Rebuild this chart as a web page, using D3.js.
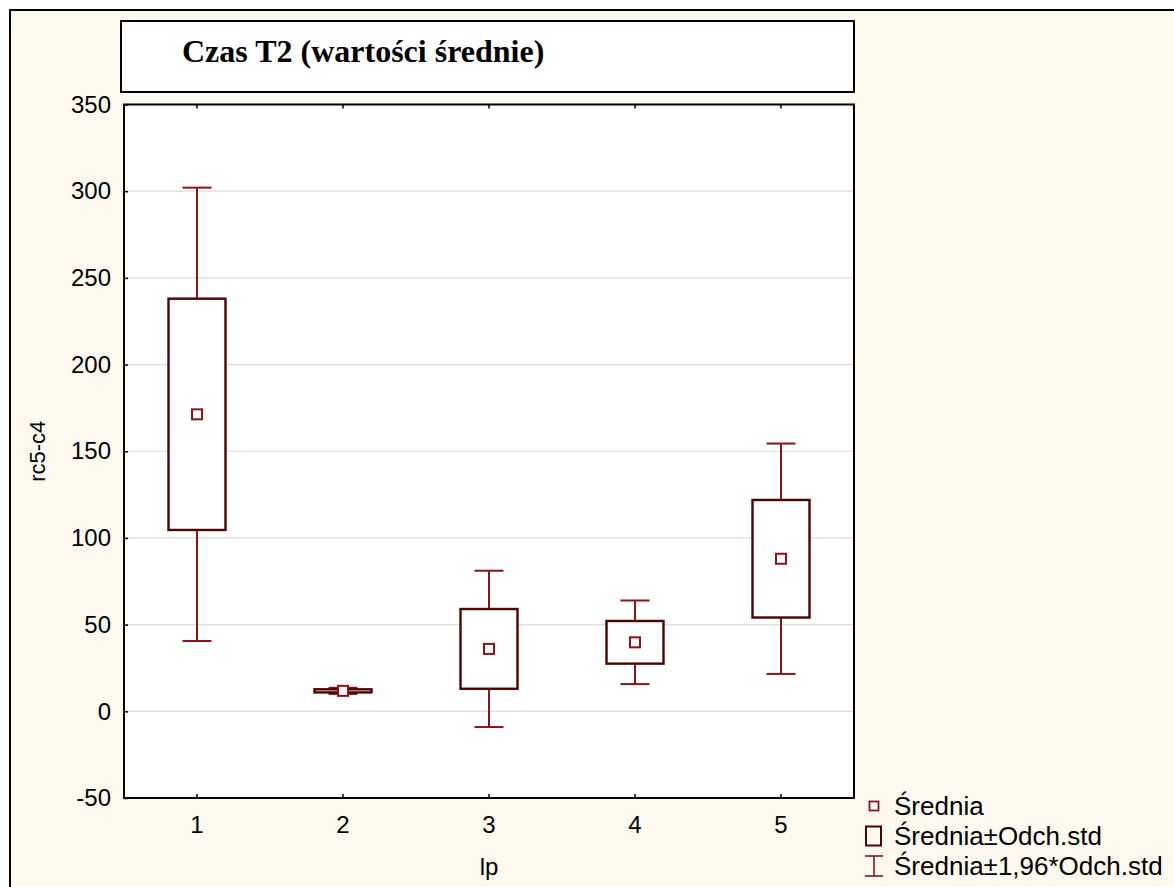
<!DOCTYPE html>
<html>
<head>
<meta charset="utf-8">
<script src="https://cdn.jsdelivr.net/npm/d3@7"></script>
<style>
  html, body { margin: 0; padding: 0; background: #ffffff; }
  svg { display: block; }
</style>
</head>
<body>
<svg id="chart" width="1174" height="887"></svg>
<script>
// Group labels and summary statistics (mean and standard deviation) per group
const categories = ["1", "2", "3", "4", "5"];
const means = [171.3, 11.8, 36, 39.8, 88];
const stdDevs = [66.7, 0.9, 23, 12.3, 33.9];
const yTicks = [-50, 0, 50, 100, 150, 200, 250, 300, 350];
const legendLabels = ["Średnia", "Średnia±Odch.std", "Średnia±1,96*Odch.std"];
const zFactor = 1.96;

const svg = d3.select("#chart");
const W = 1174, H = 887;

const bg = "#fdf9ef";
const boxColor = "#4a0404";
const whiskerColor = "#8b1414";
const meanColor = "#8b1414";
const fontSans = "'Liberation Sans', Arial, sans-serif";

// Outer panel
svg.append("rect").attr("x", 0).attr("y", 0).attr("width", W).attr("height", H).attr("fill", "#ffffff");
svg.append("rect").attr("x", 10).attr("y", 10).attr("width", W + 20).attr("height", H + 20)
  .attr("fill", bg).attr("stroke", "#000").attr("stroke-width", 2);

// Title box
svg.append("rect").attr("x", 121).attr("y", 21).attr("width", 733).attr("height", 71)
  .attr("fill", "#ffffff").attr("stroke", "#000").attr("stroke-width", 2);
svg.append("text").attr("x", 182).attr("y", 62)
  .attr("font-family", "'Liberation Serif', 'Times New Roman', serif")
  .attr("font-weight", "bold").attr("font-size", 32).attr("fill", "#000")
  .text("Czas T2 (wartości średnie)");

// Plot area
const pLeft = 124, pRight = 854, pTop = 104.5, pBottom = 798;
const x = d3.scaleBand().domain(categories).range([pLeft, pRight]).padding(0);
const y = d3.scaleLinear().domain([-50, 350]).range([pBottom, pTop]);

svg.append("rect").attr("x", pLeft).attr("y", pTop).attr("width", pRight - pLeft).attr("height", pBottom - pTop)
  .attr("fill", "#ffffff");

// Horizontal gridlines
svg.append("g").selectAll("line").data(yTicks.filter(t => t > -50 && t < 350)).join("line")
  .attr("x1", pLeft).attr("x2", pRight)
  .attr("y1", d => y(d)).attr("y2", d => y(d))
  .attr("stroke", "#dcdcdc").attr("stroke-width", 1.2);

// Left axis with inward ticks
const yAxis = d3.axisLeft(y).tickValues(yTicks).tickSize(-4).tickPadding(13)
  .tickFormat(d => String(d));
const gy = svg.append("g").attr("transform", `translate(${pLeft},0)`).call(yAxis);
gy.select(".domain").remove();
gy.selectAll("line").attr("stroke", "#000").attr("stroke-width", 1.5);
gy.selectAll("text").attr("font-family", fontSans).attr("font-size", 24).attr("fill", "#000");

// Bottom axis with inward ticks
const xAxis = d3.axisBottom(x).tickSize(-4).tickPadding(18);
const gx = svg.append("g").attr("transform", `translate(0,${pBottom})`).call(xAxis);
gx.select(".domain").remove();
gx.selectAll("line").attr("stroke", "#000").attr("stroke-width", 1.5);
gx.selectAll("text").attr("font-family", fontSans).attr("font-size", 24).attr("fill", "#000");

// Top axis ticks (no labels)
const xTop = d3.axisTop(x).tickSize(-4).tickFormat("");
const gt = svg.append("g").attr("transform", `translate(0,${pTop})`).call(xTop);
gt.select(".domain").remove();
gt.selectAll("line").attr("stroke", "#000").attr("stroke-width", 1.5);

// Plot frame
svg.append("rect").attr("x", pLeft).attr("y", pTop).attr("width", pRight - pLeft).attr("height", pBottom - pTop)
  .attr("fill", "none").attr("stroke", "#000").attr("stroke-width", 2);

// Axis titles
svg.append("text").attr("transform", `translate(45,${(pTop + pBottom) / 2}) rotate(-90)`)
  .attr("text-anchor", "middle").attr("font-family", fontSans).attr("font-size", 22).attr("fill", "#000")
  .text("rc5-c4");
svg.append("text").attr("x", (pLeft + pRight) / 2).attr("y", 875)
  .attr("text-anchor", "middle").attr("font-family", fontSans).attr("font-size", 24).attr("fill", "#000")
  .text("lp");

// Box-and-whisker marks: mean, mean±SD box, mean±1.96·SD whiskers
const data = categories.map((c, i) => ({ c, m: means[i], s: stdDevs[i] }));
const boxW = 57, capW = 29, mk = 10;
const g = svg.append("g");

data.forEach(d => {
  const cx = x(d.c) + x.bandwidth() / 2;
  const lo = d.m - zFactor * d.s, hi = d.m + zFactor * d.s;
  const bLo = d.m - d.s, bHi = d.m + d.s;
  // whisker stems
  g.append("line").attr("x1", cx).attr("x2", cx).attr("y1", y(hi)).attr("y2", y(bHi))
    .attr("stroke", whiskerColor).attr("stroke-width", 2);
  g.append("line").attr("x1", cx).attr("x2", cx).attr("y1", y(bLo)).attr("y2", y(lo))
    .attr("stroke", whiskerColor).attr("stroke-width", 2);
  // caps
  [hi, lo].forEach(v => {
    g.append("line").attr("x1", cx - capW / 2).attr("x2", cx + capW / 2).attr("y1", y(v)).attr("y2", y(v))
      .attr("stroke", whiskerColor).attr("stroke-width", 2);
  });
  // box
  g.append("rect").attr("x", cx - boxW / 2).attr("y", y(bHi)).attr("width", boxW)
    .attr("height", Math.max(0.5, y(bLo) - y(bHi)))
    .attr("fill", "#ffffff").attr("stroke", boxColor).attr("stroke-width", 2.4);
  // mean marker
  g.append("rect").attr("x", cx - mk / 2).attr("y", y(d.m) - mk / 2).attr("width", mk).attr("height", mk)
    .attr("fill", "#ffffff").attr("stroke", meanColor).attr("stroke-width", 2);
});

// Legend
const lg = svg.append("g");
const lx = 874;
const rowsMid = [806, 836, 866];
lg.append("rect").attr("x", lx - 4.5).attr("y", rowsMid[0] - 4.5).attr("width", 9).attr("height", 9)
  .attr("fill", "#fff").attr("stroke", meanColor).attr("stroke-width", 1.8);
lg.append("rect").attr("x", lx - 8).attr("y", rowsMid[1] - 9.5).attr("width", 15).attr("height", 19)
  .attr("fill", "none").attr("stroke", boxColor).attr("stroke-width", 2);
lg.append("line").attr("x1", lx).attr("x2", lx).attr("y1", rowsMid[2] - 10).attr("y2", rowsMid[2] + 10)
  .attr("stroke", whiskerColor).attr("stroke-width", 1.6);
[rowsMid[2] - 10, rowsMid[2] + 10].forEach(v => {
  lg.append("line").attr("x1", lx - 9).attr("x2", lx + 9).attr("y1", v).attr("y2", v)
    .attr("stroke", whiskerColor).attr("stroke-width", 1.6);
});
lg.selectAll("text.lab").data(legendLabels).join("text").attr("class", "lab")
  .attr("x", 894).attr("y", (d, i) => rowsMid[i] + 9)
  .attr("font-family", fontSans).attr("font-size", 26).attr("fill", "#000")
  .text(d => d);
</script>
</body>
</html>
